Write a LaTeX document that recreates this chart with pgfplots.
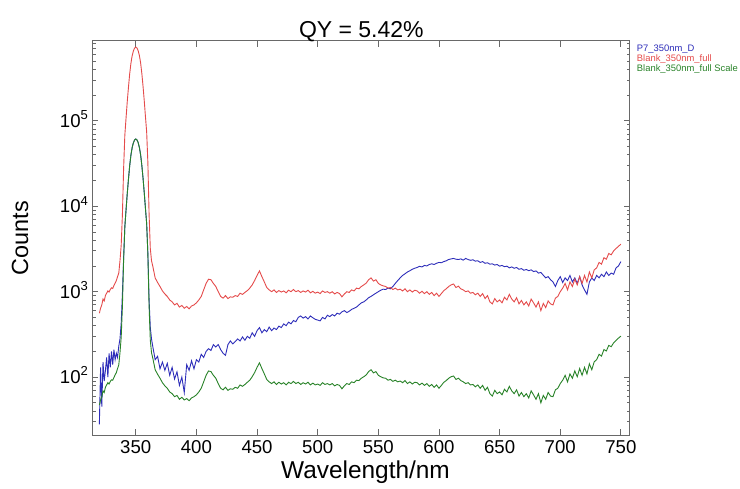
\documentclass[border=0pt]{standalone}
\usepackage{fontspec}
\setmainfont{Liberation Sans}
\usepackage{pgfplots}
\usepackage{pgfplotstable}
\pgfplotsset{compat=1.18}
\definecolor{cb}{RGB}{45,45,185}
\definecolor{cr}{RGB}{228,75,75}
\definecolor{cg}{RGB}{40,130,40}
\definecolor{ax}{RGB}{105,105,105}
\pgfplotstableread{
x b r g
320 28 560 47
321 130 640 54
322 45 700 59
323 150 820 69
324 90 780 66
325 120 900 76
326 170 960 81
327 100 1020 86
328 190 990 83
329 130 1060 89
330 200 1110 93
331 140 1090 92
332 210 1180 99
333 160 1260 106
334 190 1350 113
335 170 1500 126
336 230 1650 139
337 280 2300 193
338 430 3500 294
339 950 8000 672
340 2500 28000 2350
341 5800 68000 5710
342 9100 108000 9070
343 14100 168000 14100
344 20800 248000 20800
345 29800 355000 29800
346 39500 470000 39500
347 48300 575000 48300
348 55000 655000 55000
349 59600 710000 59600
350 61300 730000 61300
351 59800 712000 59800
352 55600 662000 55600
353 48700 580000 48700
354 40200 478000 40200
355 30200 360000 30200
356 21400 255000 21400
357 14400 172000 14400
358 9400 112000 9410
359 6300 74000 6220
360 2800 32000 2690
361 800 8000 670
362 380 3200 270
363 280 2300 193
364 230 2000 168
366 160 1450 122
368 175 1280 108
370 125 1150 97
372 150 1020 86
374 120 940 79
376 145 880 74
378 105 800 67
380 130 760 64
382 95 700 59
384 115 730 61
386 80 660 55
388 100 690 58
390 66 640 54
392 140 670 56
394 120 630 53
396 155 680 57
398 125 700 59
400 160 740 62
402 150 800 67
404 185 880 74
406 170 1050 88
408 200 1250 105
410 215 1400 118
412 205 1380 116
414 240 1250 105
416 225 1150 97
418 240 1000 84
420 210 880 74
422 190 840 71
424 180 900 76
426 240 830 70
428 265 870 73
430 245 860 72
432 260 900 76
434 280 880 74
436 265 960 81
438 295 930 78
440 270 980 82
442 300 1030 87
444 285 1100 92
446 330 1200 101
448 300 1350 113
450 350 1550 130
452 380 1750 147
454 330 1500 126
456 360 1300 109
458 340 1120 94
460 385 1050 88
462 350 1000 84
464 375 1050 88
466 360 980 82
468 395 1030 87
470 380 990 83
472 420 1020 86
474 400 970 81
476 440 1040 87
478 420 1000 84
480 460 1060 89
482 445 1000 84
484 500 1030 87
486 520 980 82
488 490 1020 86
490 510 990 83
492 480 1040 87
494 520 970 81
496 495 1010 85
498 475 960 81
500 465 990 83
502 455 950 80
504 500 1020 86
506 480 980 82
508 530 1000 84
510 510 960 81
512 540 1000 84
514 520 940 79
516 560 980 82
518 545 950 80
520 580 870 73
522 600 940 79
524 570 1000 84
526 590 980 82
528 620 1050 88
530 640 1020 86
532 660 1100 92
534 700 1080 91
536 740 1150 97
538 760 1200 101
540 800 1260 106
542 850 1380 116
544 880 1450 122
546 920 1330 112
548 960 1380 116
550 1000 1250 105
552 1040 1200 101
554 1070 1170 98
556 1060 1150 97
558 1100 1100 92
560 1080 1120 94
562 1150 1060 89
564 1250 1100 92
566 1350 1050 88
568 1450 1070 90
570 1550 1020 86
572 1620 1080 91
574 1700 1000 84
576 1760 1050 88
578 1830 990 83
580 1880 1040 87
582 1920 1020 86
584 1980 960 81
586 1950 1010 85
588 2030 950 80
590 2000 1000 84
592 2080 930 78
594 2120 980 82
596 2080 900 76
598 2150 960 81
600 2200 880 74
602 2180 950 80
604 2250 1030 87
606 2300 1080 91
608 2380 1150 97
610 2420 1200 101
612 2450 1230 103
614 2400 1120 94
616 2380 1160 97
618 2420 1080 91
620 2340 1050 88
622 2450 1000 84
624 2380 1020 86
626 2330 960 81
628 2360 980 82
630 2280 920 77
632 2300 960 81
634 2200 880 74
636 2250 950 80
638 2150 830 70
640 2180 900 76
642 2100 760 64
644 2120 720 60
646 2050 830 70
648 2080 760 64
650 1990 800 67
652 2030 740 62
654 1960 860 72
656 1990 800 67
658 1900 930 78
660 1950 820 69
662 1880 760 64
664 1920 850 71
666 1830 720 60
668 1860 790 66
670 1780 700 59
672 1820 760 64
674 1760 680 57
676 1800 820 69
678 1720 740 62
680 1750 660 55
682 1650 760 64
684 1680 600 50
686 1560 730 61
688 1450 650 55
690 1500 780 66
692 1380 720 60
694 1300 700 59
696 1150 840 71
698 1350 880 74
700 1500 1000 84
702 1280 1100 92
704 1450 1250 105
706 1350 1050 88
708 1550 1300 109
710 1300 1150 97
712 1450 1400 118
714 1250 1200 101
716 1500 1500 126
718 1200 1250 105
720 1050 1550 130
722 930 1300 109
724 1300 1700 143
726 1450 1450 122
728 1350 1800 151
730 1550 1900 160
732 1450 2200 185
734 1600 2100 176
736 1500 2500 210
738 1700 2400 202
740 1550 2800 235
742 1650 2700 227
744 1600 3000 252
746 1900 3200 269
748 2000 3400 286
750 2250 3600 302
}\spectra
\begin{document}
\begin{tikzpicture}
\useasboundingbox (-46.35pt,-26.5pt) rectangle (323.65pt,217.5pt);
\begin{axis}[
  scale only axis,
  width=268.65pt, height=197pt,
  at={(0,0)}, anchor=south west,
  ymode=log,
  xmin=314.5, xmax=757.5,
  ymin=21, ymax=8.6e5,
  xtick={350,400,...,750},
  ytick={100,1000,10000,100000},
  yticklabels={10\textsuperscript{2},10\textsuperscript{3},10\textsuperscript{4},10\textsuperscript{5}},
  minor ytick={30,40,50,60,70,80,90,200,300,400,500,600,700,800,900,2000,3000,4000,5000,6000,7000,8000,9000,20000,30000,40000,50000,60000,70000,80000,90000,200000,300000,400000,500000,600000,700000,800000},
  /pgf/number format/assume math mode=true,
  /pgf/number format/1000 sep={},
  tick label style={font=\fontsize{9.3}{11}\selectfont, text=black},
  xticklabel style={anchor=center, yshift=-5.85pt},
  yticklabel style={anchor=base east, inner sep=0pt, xshift=-1.7pt, yshift=-3.2pt},
  major tick length=2.8pt, minor tick length=1.7pt,
  axis line style={draw=ax, line width=0.5pt},
  every tick/.style={draw=ax, line width=0.45pt},
  title={QY = 5.42\%},
  title style={at={(axis description cs:0.5,1.0279)}, anchor=center, yshift=-7pt, font=\fontsize{11.5}{13}\selectfont},
  xlabel={Wavelength/nm},
  xlabel style={at={(axis description cs:0.5077,-0.0932)}, anchor=center, font=\fontsize{12.2}{14}\selectfont},
  ylabel={Counts},
  ylabel style={at={(axis description cs:-0.1353,0.5)}, anchor=center, font=\fontsize{11.7}{14}\selectfont},
  legend style={at={(axis description cs:1.010,0.995)}, anchor=north west, draw=none, fill=none,
    font=\fontsize{4.7}{5}\selectfont, inner sep=0pt, row sep=-1pt, nodes={inner sep=0.6pt}},
  legend cell align=left,
  legend image code/.code={},
]
\addplot[cb, line width=0.45pt] table[x=x, y=b] {\spectra};
\addlegendentry{\textcolor{cb}{P7\_350nm\_D}}
\addplot[cr, line width=0.45pt] table[x=x, y=r] {\spectra};
\addlegendentry{\textcolor{cr}{Blank\_350nm\_full}}
\addplot[cg, line width=0.45pt] table[x=x, y=g] {\spectra};
\addlegendentry{\textcolor{cg}{Blank\_350nm\_full Scale}}
\end{axis}
\end{tikzpicture}
\end{document}
